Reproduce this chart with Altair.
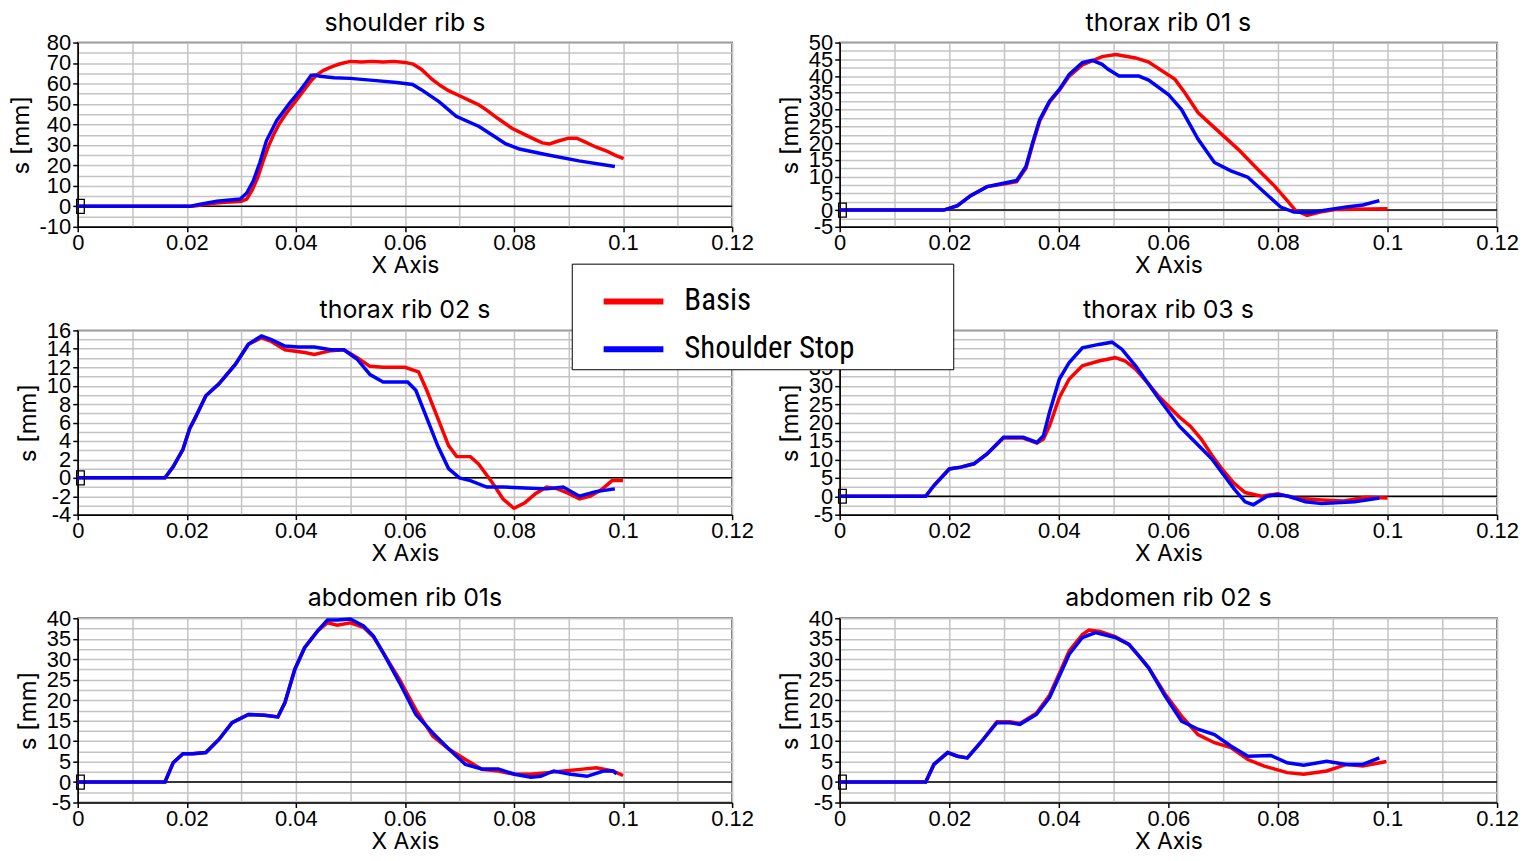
import altair as alt
import pandas as pd

# ---------------- data ----------------
SERIES = ["Basis", "Shoulder Stop"]
COLORS = ["#ff0000", "#0000ff"]

# shoulder rib s
SH_BASIS_X = [0, 0.021, 0.023, 0.025, 0.027, 0.029, 0.030, 0.031, 0.032, 0.033, 0.034, 0.035, 0.036, 0.037,
              0.038, 0.039, 0.040, 0.041, 0.042, 0.043, 0.044, 0.045, 0.046, 0.047, 0.048, 0.049, 0.050,
              0.052, 0.054, 0.056, 0.058, 0.060, 0.0615, 0.063, 0.065, 0.0665, 0.068, 0.070, 0.072, 0.0736,
              0.075, 0.077, 0.0797, 0.082, 0.084, 0.0852, 0.0865, 0.088, 0.090, 0.0915, 0.093, 0.095,
              0.097, 0.0985, 0.1001]
SH_BASIS_Y = [0, 0, 0.8, 1.5, 2, 2.2, 2.5, 3.5, 8, 14, 22, 29.5, 35.5, 40.5,
              44.5, 48, 51.5, 55, 58.5, 62, 64.5, 66.3, 67.5, 68.6, 69.5, 70.2, 70.8,
              70.5, 70.8, 70.5, 70.8, 70.3, 69.5, 67, 62, 59, 56.5, 54, 51.5, 49.5,
              47, 43, 38, 35, 32.5, 31, 30.5, 31.8, 33.3, 33.3, 31.5, 29,
              27, 25, 23.3]
SH_STOP_X = [0, 0.0205, 0.022, 0.0255, 0.0298, 0.031, 0.0322, 0.0334, 0.0346, 0.0365, 0.0389, 0.0407,
             0.042, 0.0428, 0.0435, 0.0444, 0.047, 0.050, 0.0547, 0.0585, 0.0614, 0.063, 0.0663, 0.0694,
             0.0736, 0.0765, 0.0785, 0.081, 0.0858, 0.0919, 0.0985]
SH_STOP_Y = [0, 0, 0.8, 2.5, 3.6, 6.5, 12.5, 21.4, 32, 42, 50.5, 56.3,
             61, 64, 64.2, 63.5, 62.8, 62.5, 61.4, 60.5, 59.5, 57, 51, 44,
             39, 34, 30.5, 28, 25.3, 22.2, 19.5]

# thorax rib 01 s
T1_BASIS_X = [0, 0.019, 0.0215, 0.0239, 0.0269, 0.0299, 0.0323, 0.034, 0.0352, 0.0365, 0.0383, 0.0401,
              0.0419, 0.0443, 0.0479, 0.0504, 0.054, 0.0564, 0.0612, 0.063, 0.0654, 0.0684, 0.0727, 0.0763,
              0.0793, 0.0817, 0.0832, 0.0853, 0.0877, 0.0907, 0.100]
T1_BASIS_Y = [0, 0, 1.3, 4.3, 7.0, 7.8, 8.5, 12.5, 19.5, 26.5, 32.2, 35.8,
              40, 43.3, 45.8, 46.4, 45.4, 44.2, 39, 35, 29.1, 24.6, 18.2, 12.2,
              7.3, 2.8, -0.1, -1.6, -0.6, 0.2, 0.4]
T1_STOP_X = [0, 0.019, 0.0215, 0.0239, 0.0269, 0.0299, 0.0323, 0.034, 0.0352, 0.0365, 0.0383, 0.0401,
             0.0419, 0.0443, 0.0461, 0.0479, 0.049, 0.051, 0.0546, 0.0564, 0.060, 0.0624, 0.0654, 0.0684,
             0.0714, 0.0745, 0.0775, 0.0805, 0.0829, 0.0859, 0.0883, 0.0925, 0.0955, 0.0985]
T1_STOP_Y = [0, 0, 1.3, 4.3, 7.0, 8.0, 8.8, 13, 20, 27, 32.5, 36,
             40.5, 44, 44.7, 43.5, 42, 40, 40, 38.8, 34.5, 30, 21.2, 14.2,
             11.7, 9.8, 5.3, 0.9, -0.6, -0.8, -0.1, 0.9, 1.5, 2.8]

# thorax rib 02 s
T2_BASIS_X = [0, 0.016, 0.0175, 0.0193, 0.0205, 0.0217, 0.0235, 0.0259, 0.0289, 0.0313, 0.0337, 0.0355,
              0.038, 0.0416, 0.0434, 0.0464, 0.0488, 0.0512, 0.0536, 0.056, 0.060, 0.0625, 0.064, 0.066,
              0.068, 0.0695, 0.072, 0.0735, 0.076, 0.078, 0.080, 0.082, 0.084, 0.086, 0.088, 0.090, 0.092,
              0.094, 0.096, 0.098, 0.100]
T2_BASIS_Y = [0, 0, 1.2, 3.1, 5.3, 6.7, 8.9, 10.2, 12.3, 14.5, 15.2, 14.8,
              13.9, 13.6, 13.4, 13.8, 13.9, 13.05, 12.1, 12.0, 12.0, 11.5, 9.5, 6.5,
              3.5, 2.3, 2.3, 1.5, -0.5, -2.3, -3.3, -2.7, -1.7, -1.0, -1.2, -1.7, -2.3,
              -2.0, -1.3, -0.3, -0.3]
T2_STOP_X = [0, 0.016, 0.0175, 0.0193, 0.0205, 0.0217, 0.0235, 0.0259, 0.0289, 0.0313, 0.0337, 0.0355,
             0.038, 0.0404, 0.0434, 0.0464, 0.0488, 0.0512, 0.0536, 0.056, 0.0605, 0.062, 0.064, 0.066,
             0.068, 0.070, 0.072, 0.075, 0.078, 0.082, 0.086, 0.089, 0.092, 0.095, 0.0985]
T2_STOP_Y = [0, 0, 1.2, 3.1, 5.3, 6.7, 8.9, 10.2, 12.3, 14.5, 15.4, 15.0,
             14.3, 14.2, 14.2, 13.9, 13.9, 12.9, 11.2, 10.4, 10.4, 9.5, 6.5, 3.5,
             1.0, 0, -0.3, -1.0, -1.0, -1.1, -1.2, -1.0, -2.0, -1.5, -1.2]

# thorax rib 03 s
T3_BASIS_X = [0, 0.0157, 0.0172, 0.020, 0.0221, 0.0245, 0.0269, 0.0299, 0.0335, 0.036, 0.0372, 0.0383,
              0.0401, 0.0419, 0.0443, 0.0473, 0.0503, 0.0521, 0.054, 0.0564, 0.058, 0.060, 0.062, 0.064,
              0.066, 0.068, 0.070, 0.072, 0.074, 0.077, 0.080, 0.083, 0.088, 0.092, 0.096, 0.100]
T3_BASIS_Y = [0, 0, 2.9, 7.4, 7.9, 8.8, 11.5, 15.8, 15.8, 14.4, 15.5, 19.1,
              26.8, 31.8, 35.4, 36.7, 37.6, 36.7, 34.5, 30.4, 27.5, 24.5, 21.5, 19,
              15.5, 11, 7, 3.5, 1, 0, 0.7, -0.5, -1, -1.3, -0.3, -0.5]
T3_STOP_X = [0, 0.0157, 0.0172, 0.020, 0.0221, 0.0245, 0.0269, 0.0299, 0.0335, 0.036, 0.0372, 0.0383,
             0.0401, 0.0419, 0.0443, 0.0473, 0.0497, 0.0515, 0.054, 0.0564, 0.058, 0.060, 0.062, 0.064,
             0.066, 0.068, 0.070, 0.072, 0.074, 0.0755, 0.078, 0.080, 0.082, 0.085, 0.088, 0.094, 0.0985]
T3_STOP_Y = [0, 0, 2.9, 7.4, 7.9, 8.8, 11.5, 16, 16, 14.6, 16.4, 22.8,
             31.8, 36.3, 40.3, 41.2, 41.8, 39.9, 35.4, 30.4, 27, 23, 19, 16,
             13, 10, 6, 2, -1.5, -2.3, 0, 0.5, 0, -1.5, -2, -1.5, -0.5]

# abdomen rib 01s
A1_BASIS_X = [0, 0.016, 0.0175, 0.0193, 0.0211, 0.0235, 0.0259, 0.0283, 0.0313, 0.0343, 0.0367, 0.038,
              0.0398, 0.0416, 0.044, 0.0458, 0.0476, 0.050, 0.0524, 0.0542, 0.056, 0.059, 0.062, 0.0651,
              0.0681, 0.0711, 0.0741, 0.0771, 0.0801, 0.0831, 0.0861, 0.0891, 0.0921, 0.0951, 0.0981, 0.100]
A1_BASIS_Y = [0, 0, 4.7, 6.9, 6.9, 7.2, 10.4, 14.5, 16.5, 16.3, 15.9, 19.4,
              27.5, 32.8, 36.9, 38.9, 38.3, 38.9, 37.8, 35.5, 31.6, 25.1, 17.7, 11.2,
              8, 5.5, 3.1, 2.7, 1.9, 1.9, 2.3, 2.7, 3.1, 3.5, 2.7, 1.6]
A1_STOP_X = [0, 0.016, 0.0175, 0.0193, 0.0211, 0.0235, 0.0259, 0.0283, 0.0313, 0.0343, 0.0367, 0.038,
             0.0398, 0.0416, 0.044, 0.0458, 0.0476, 0.050, 0.0524, 0.0542, 0.056, 0.059, 0.062, 0.0651,
             0.0681, 0.0711, 0.0741, 0.0771, 0.0801, 0.0831, 0.0849, 0.0873, 0.0904, 0.0934, 0.0964,
             0.0982, 0.0988]
A1_STOP_Y = [0, 0, 4.7, 6.9, 6.9, 7.2, 10.4, 14.5, 16.5, 16.3, 15.9, 19.4,
             27.5, 32.8, 36.9, 39.6, 39.6, 39.8, 38.1, 35.7, 31.6, 24.3, 16.5, 12,
             8, 4.3, 3.2, 3.2, 1.9, 1.2, 1.4, 2.7, 1.9, 1.4, 2.7,
             2.7, 2]

# abdomen rib 02 s
A2_BASIS_X = [0, 0.0157, 0.0172, 0.0197, 0.0215, 0.0233, 0.0257, 0.0287, 0.0311, 0.0329, 0.0359, 0.0383,
              0.0401, 0.0419, 0.0443, 0.0455, 0.0475, 0.0503, 0.0528, 0.0546, 0.0564, 0.0594, 0.0624,
              0.0654, 0.0684, 0.0714, 0.0745, 0.0775, 0.0817, 0.0847, 0.0889, 0.0925, 0.0955, 0.0998]
A2_BASIS_Y = [0, 0, 4.3, 7.2, 6.3, 5.9, 9.6, 14.7, 14.7, 14.3, 16.8, 21.2,
              26.6, 32, 36, 37.1, 36.8, 35.5, 33.6, 30.8, 27.9, 21.5, 16.1,
              11.6, 9.6, 8.4, 5.5, 3.9, 2.3, 1.9, 2.7, 4.3, 3.9, 5]
A2_STOP_X = [0, 0.0157, 0.0172, 0.0197, 0.0215, 0.0233, 0.0257, 0.0287, 0.0311, 0.0329, 0.0359, 0.0383,
             0.0401, 0.0419, 0.0443, 0.0467, 0.0503, 0.0528, 0.0546, 0.0564, 0.0594, 0.0624, 0.0654,
             0.0684, 0.0714, 0.0745, 0.0787, 0.0817, 0.0847, 0.0889, 0.0925, 0.0955, 0.0985]
A2_STOP_Y = [0, 0, 4.3, 7.2, 6.3, 5.9, 9.6, 14.5, 14.5, 14.1, 16.5, 20.6,
             25.9, 31.2, 35.3, 36.5, 35.3, 33.6, 30.8, 27.9, 21, 14.9, 12.9,
             11.6, 8.8, 6.3, 6.5, 4.7, 4.1, 5.1, 4.3, 4.3, 5.9]

# panel titles, y ranges and tick steps
TITLES = ["shoulder rib s", "thorax rib 01 s", "thorax rib 02 s",
          "thorax rib 03 s", "abdomen rib 01s", "abdomen rib 02 s"]
Y_MIN = [-10, -5, -4, -5, -5, -5]
Y_MAX = [80, 50, 16, 45, 40, 40]
Y_STEP = [10, 5, 2, 5, 5, 5]
X_MAX = 0.12
X_GRID_STEP = 0.01
ZERO = [0]
MARKER_X = [0.0005]
MARKER_Y = [0]

CURVES = [
    (SH_BASIS_X, SH_BASIS_Y, SH_STOP_X, SH_STOP_Y),
    (T1_BASIS_X, T1_BASIS_Y, T1_STOP_X, T1_STOP_Y),
    (T2_BASIS_X, T2_BASIS_Y, T2_STOP_X, T2_STOP_Y),
    (T3_BASIS_X, T3_BASIS_Y, T3_STOP_X, T3_STOP_Y),
    (A1_BASIS_X, A1_BASIS_Y, A1_STOP_X, A1_STOP_Y),
    (A2_BASIS_X, A2_BASIS_Y, A2_STOP_X, A2_STOP_Y),
]

TICK_FONT = "Liberation Sans, Arial, sans-serif"
TITLE_FONT = "Inter, Roboto, Liberation Sans, sans-serif"
LEGEND_FONT = "Liberation Sans Narrow, Roboto Condensed, Roboto, sans-serif"
GRID = "#c4c4c4"

x_vals = [round(i * X_GRID_STEP, 2) for i in range(int(round(X_MAX / X_GRID_STEP)) + 1)]
LEGEND = alt.Legend(title=".", titleOrient="right", titleColor="white", titleFontSize=1,
                    titlePadding=93)


def panel(i, width):
    bx, by, sx, sy = CURVES[i]
    df = pd.concat([
        pd.DataFrame({"x": bx, "y": by, "series": SERIES[0], "order": range(len(bx))}),
        pd.DataFrame({"x": sx, "y": sy, "series": SERIES[1], "order": range(len(sx))}),
    ])
    ymin, ymax, step = Y_MIN[i], Y_MAX[i], Y_STEP[i]
    n = int(round((ymax - ymin) / (step / 2)))
    y_vals = [round(ymin + k * step / 2, 3) for k in range(n + 1)]

    xscale = alt.Scale(domain=[0, X_MAX], nice=False, zero=False)
    yscale = alt.Scale(domain=[ymin, ymax], nice=False, zero=False)

    xaxis = alt.Axis(
        values=x_vals, title="X Axis", grid=True, gridColor=GRID, gridWidth=1.5,
        labelExpr="round(datum.value*100) % 2 == 0 ? '' + datum.value : ''",
        labelFlush=False, labelOverlap=False, tickSize=5, labelPadding=1,
        tickOpacity={"condition": {"test": "round(datum.value*100) % 2 == 0", "value": 1}, "value": 0},
        titlePadding=1, titleFontSize=23,
    )
    yaxis = alt.Axis(
        values=y_vals, title="s [mm]", grid=True, gridColor=GRID, gridWidth=1.5,
        labelExpr=f"round(datum.value*2/{step}) % 2 == 0 ? '' + datum.value : ''",
        labelFlush=False, labelOverlap=False, tickSize=5, labelPadding=2,
        tickOpacity={"condition": {"test": f"round(datum.value*2/{step}) % 2 == 0", "value": 1}, "value": 0},
        titlePadding=6, titleFontSize=24,
    )

    lines = alt.Chart(df).mark_line(strokeWidth=3.5, interpolate="linear").encode(
        x=alt.X("x:Q", scale=xscale, axis=xaxis),
        y=alt.Y("y:Q", scale=yscale, axis=yaxis),
        color=alt.Color("series:N", scale=alt.Scale(domain=SERIES, range=COLORS), legend=LEGEND),
        order="order:Q",
    )
    zero = alt.Chart(pd.DataFrame({"y": ZERO})).mark_rule(color="black", strokeWidth=1.5).encode(
        y=alt.Y("y:Q", scale=yscale, axis=yaxis)
    )
    marker = alt.Chart(pd.DataFrame({"x": MARKER_X, "y": MARKER_Y})).mark_point(
        shape="M-0.55,-1H0.55V1H-0.55Z", size=196, filled=False, color="black", strokeWidth=1.3, opacity=1
    ).encode(
        x=alt.X("x:Q", scale=xscale, axis=xaxis),
        y=alt.Y("y:Q", scale=yscale, axis=yaxis),
    )
    return alt.layer(zero, lines, marker).properties(
        width=width, height=185,
        title=alt.TitleParams(TITLES[i], font=TITLE_FONT, fontSize=25, fontWeight="normal",
                              color="black", anchor="middle", offset=-4, frame="group"),
    )


LEFT_W = 657
RIGHT_W = 660
row1 = alt.hconcat(panel(0, LEFT_W), panel(1, RIGHT_W), spacing=22)
row2 = alt.hconcat(panel(2, LEFT_W), panel(3, RIGHT_W), spacing=22)
row3 = alt.hconcat(panel(4, LEFT_W), panel(5, RIGHT_W), spacing=22)

chart = alt.concat(row1, row2, row3, columns=1, align="none", spacing=19).configure_view(
    stroke="#303030", strokeWidth=1.5
).configure_axis(
    labelFont=TICK_FONT, labelFontSize=22, labelColor="black",
    titleFont=TITLE_FONT, titleFontWeight="normal", titleColor="black",
    domainColor="black", domainWidth=1.5, tickColor="black", tickWidth=1.5,
).configure_legend(
    orient="none", legendX=496, legendY=222,
    fillColor="white", strokeColor="black", padding=5, cornerRadius=0,
    symbolType="stroke", symbolSize=3600, symbolStrokeWidth=6, symbolOffset=24,
    labelOffset=18, labelFont=LEGEND_FONT, labelFontSize=31, labelColor="black",
    labelLimit=600, rowPadding=0,
).properties(background="white", padding=0)

chart.save("out.html", embed_options={"renderer": "svg", "actions": False})
